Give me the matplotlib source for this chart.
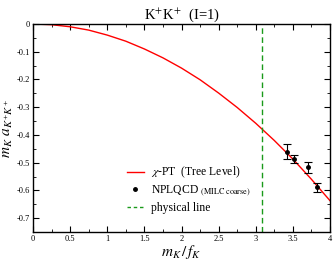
import matplotlib
matplotlib.use("Agg")
from matplotlib import pyplot as plt
from matplotlib.ticker import MultipleLocator, FuncFormatter
from matplotlib.lines import Line2D

plt.rcParams['font.family'] = ['Liberation Serif', 'DejaVu Serif']
plt.rcParams['mathtext.fontset'] = 'stix'

# tree level curve
x_curve = [0, 0.25, 0.5, 0.75, 1.0, 1.25, 1.5, 1.75, 2.0, 2.25, 2.5, 2.75, 3.0, 3.25, 3.5, 3.75, 4.0]
y_curve = [0, -0.0025, -0.01, -0.022, -0.04, -0.062, -0.09, -0.122, -0.159, -0.201,
           -0.249, -0.301, -0.358, -0.42, -0.487, -0.56, -0.637]

# NPLQCD points
x_pts = [3.42, 3.52, 3.71, 3.83]
y_pts = [-0.460, -0.487, -0.517, -0.589]
y_err = [0.028, 0.016, 0.021, 0.015]

phys = 3.09

fig = plt.figure(figsize=(3.33, 2.61), dpi=100)
ax = fig.add_axes([33/333, 1 - 232/261, 297/333, 208/261])

ax.plot(x_curve, y_curve, color='red', lw=1.0)
ax.errorbar(x_pts, y_pts, yerr=y_err, fmt='o', color='black', ms=2.5,
            elinewidth=0.8, capsize=3, capthick=0.8)
ax.axvline(phys, color='#1a9a1a', ls=(0, (4, 2.5)), lw=1.0)

ax.set_xlim(0, 4)
ax.set_ylim(-0.75, 0)
ax.xaxis.set_major_locator(MultipleLocator(0.5))
ax.xaxis.set_minor_locator(MultipleLocator(0.25))
ax.yaxis.set_major_locator(MultipleLocator(0.1))
ax.yaxis.set_minor_locator(MultipleLocator(0.05))
ax.xaxis.set_major_formatter(FuncFormatter(lambda v, p: '%g' % v))
ax.yaxis.set_major_formatter(FuncFormatter(lambda v, p: ('%g' % v) if abs(v) > 1e-9 else '0'))
ax.tick_params(which='both', direction='in', top=True, right=True, labelsize=6, pad=2)
ax.tick_params(which='major', length=4, width=0.8)
ax.tick_params(which='minor', length=2, width=0.6)
for s in ax.spines.values():
    s.set_linewidth(1.0)

ax.set_title(r'K$^{+}$K$^{+}$  (I=1)', fontsize=10.5, pad=3)
ax.set_xlabel(r'$m_K\,/\,f_K$', fontsize=11, labelpad=0)
ax.set_ylabel(r'$m_K\ a_{K^{+}K^{+}}$', fontsize=11, labelpad=1)

handles = [
    Line2D([], [], color='red', lw=1.0),
    Line2D([], [], color='black', marker='o', ms=2.5, ls='none'),
    Line2D([], [], color='#1a9a1a', lw=1.0, ls=(0, (2.5, 2))),
]
labels = [r'$\chi$-PT  (Tree Level)',
          'NPLQCD $_{\\mathrm{(MILC\\ coarse)}}$',
          'physical line']
ax.legend(handles, labels, loc='lower left', bbox_to_anchor=(0.28, 0.035), frameon=False,
          fontsize=8.4, handlelength=1.5, handletextpad=0.6, labelspacing=0.32)

fig.savefig('out.png', dpi=100)
